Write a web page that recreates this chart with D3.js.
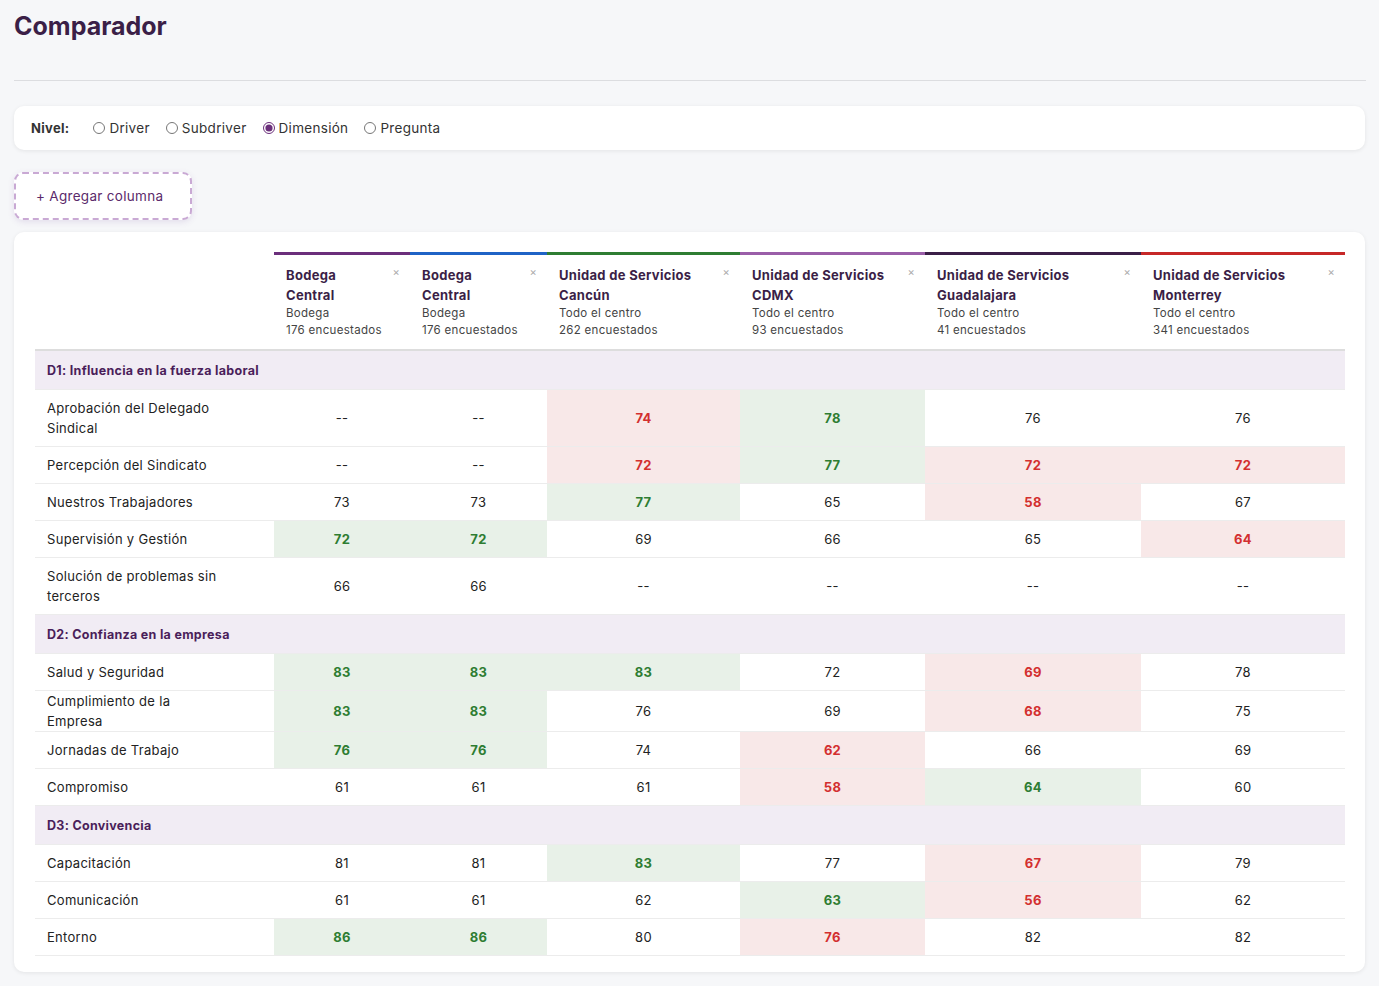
<!DOCTYPE html>
<html>
<head>
<meta charset="utf-8">
<script src="https://d3js.org/d3.v7.min.js"></script>
<style>
  body { margin:0; background:#f6f7f9; font-family: Inter, "Open Sans", sans-serif; color:#222; width:1379px; height:986px; overflow:hidden; letter-spacing:0.3px; }
  h1 { position:absolute; left:14px; top:11px; margin:0; font-size:25px; font-weight:700; color:#3b1f47; letter-spacing:0; }
  .rule { position:absolute; left:14px; top:80px; width:1352px; border-top:1px solid #dcdde0; }
  .nivel { position:absolute; left:14px; top:106px; width:1351px; height:44px; background:#fff; border-radius:10px; box-shadow:0 1px 4px rgba(0,0,0,0.08); font-size:13.5px; display:flex; align-items:center; }
  .nivel b { margin-left:17px; margin-right:24px; color:#333; font-size:13px; }
  .nivel label { display:flex; align-items:center; margin-right:16px; color:#333; }
  .nivel input { margin:0 4px 0 0; width:12px; height:12px; accent-color:#6b2f7b; }
  .add { position:absolute; left:14px; top:172px; width:174px; height:44px; border:2px dashed #c9a9d4; border-radius:9px; background:#fff; color:#5b2a6b; font-size:13.5px; line-height:44px; text-indent:20px; box-shadow:0 2px 6px rgba(120,80,160,0.15); }
  .card { position:absolute; left:14px; top:232px; width:1351px; height:740px; background:#fff; border-radius:10px; box-shadow:0 1px 4px rgba(0,0,0,0.08); }
  table { position:absolute; left:21px; top:20px; border-collapse:collapse; table-layout:fixed; font-size:13px; }
  th { text-align:left; vertical-align:top; padding:10px 12px 10px 12px; height:72px; position:relative; border-bottom:2px solid #ddd; font-weight:400; }
  th .t { font-weight:700; color:#3b1f47; line-height:20px; font-size:13px; padding-right:18px; }
  th .s { color:#444; font-size:11.5px; line-height:17px; }
  th .x { position:absolute; right:10px; top:10px; color:#aaa; font-size:11px; }
  td { border-bottom:1px solid #ececec; text-align:center; padding:0 8px; color:#222; }
  td.lab { text-align:left; padding-left:12px; padding-right:50px; color:#222; line-height:20px; }
  tr.sec td { background:#f1ecf4; color:#4a1e5a; font-weight:700; font-size:12.5px; text-align:left; padding-left:12px; height:38px; }
  td.g { background:#e8f1e8; color:#2e7d32; font-weight:700; }
  td.r { background:#f8e8e8; color:#d32f2f; font-weight:700; }
</style>
</head>
<body>
<h1>Comparador</h1>
<div class="rule"></div>
<div class="nivel"><b>Nivel:</b>
  <label><input type="radio" name="n">Driver</label>
  <label><input type="radio" name="n">Subdriver</label>
  <label><input type="radio" name="n" checked>Dimensión</label>
  <label><input type="radio" name="n">Pregunta</label>
</div>
<div class="add">+ Agregar columna</div>
<div class="card"><table id="tbl"></table></div>
<script>
var columns = ["Bodega Central", "Bodega Central", "Unidad de Servicios Cancún", "Unidad de Servicios CDMX", "Unidad de Servicios Guadalajara", "Unidad de Servicios Monterrey"];
var subtitles = ["Bodega", "Bodega", "Todo el centro", "Todo el centro", "Todo el centro", "Todo el centro"];
var respondents = [176, 176, 262, 93, 41, 341];
var columnColors = ["#6b2f7b", "#1f63c6", "#2e7d32", "#9a5ea8", "#3b1f47", "#c62828"];
var columnWidths = [239, 136, 137, 193, 185, 216, 204];

var sections = ["D1: Influencia en la fuerza laboral", "D2: Confianza en la empresa", "D3: Convivencia"];
var rowLabels = [
  ["Aprobación del Delegado Sindical", "Percepción del Sindicato", "Nuestros Trabajadores", "Supervisión y Gestión", "Solución de problemas sin terceros"],
  ["Salud y Seguridad", "Cumplimiento de la Empresa", "Jornadas de Trabajo", "Compromiso"],
  ["Capacitación", "Comunicación", "Entorno"]
];
var values = [
  [[null,null,74,78,76,76],[null,null,72,77,72,72],[73,73,77,65,58,67],[72,72,69,66,65,64],[66,66,null,null,null,null]],
  [[83,83,83,72,69,78],[83,83,76,69,68,75],[76,76,74,62,66,69],[61,61,61,58,64,60]],
  [[81,81,83,77,67,79],[61,61,62,63,56,62],[86,86,80,76,82,82]]
];
var flags = [
  [["","","r","g","",""],["","","r","g","r","r"],["","","g","","r",""],["g","g","","","","r"],["","","","","",""]],
  [["g","g","g","","r",""],["g","g","","","r",""],["g","g","","r","",""],["","","","r","g",""]],
  [["","","g","","r",""],["","","","g","r",""],["g","g","","r","",""]]
];

var table = d3.select("#tbl");
table.append("colgroup").selectAll("col").data(columnWidths).join("col").style("width", function(d){ return d + "px"; });
var hr = table.append("tr");
hr.append("th").style("border-top", "3px solid transparent");
var ths = hr.selectAll("th.c").data(columns).join("th").attr("class", "c")
  .style("border-top", function(d, i){ return "3px solid " + columnColors[i]; });
ths.append("div").attr("class", "t").text(function(d){ return d; });
ths.append("div").attr("class", "s").text(function(d, i){ return subtitles[i]; });
ths.append("div").attr("class", "s").text(function(d, i){ return respondents[i] + " encuestados"; });
ths.append("span").attr("class", "x").text("×");

sections.forEach(function(sec, si){
  table.append("tr").attr("class", "sec").append("td").attr("colspan", 7).text(sec);
  rowLabels[si].forEach(function(lab, ri){
    var tr = table.append("tr").style("height", lab.length > 30 ? "57px" : "37px");
    tr.append("td").attr("class", "lab").text(lab);
    tr.selectAll("td.v").data(values[si][ri]).join("td")
      .attr("class", function(d, i){ return "v " + flags[si][ri][i]; })
      .text(function(d){ return d == null ? "--" : d; });
  });
});
</script>
</body>
</html>
